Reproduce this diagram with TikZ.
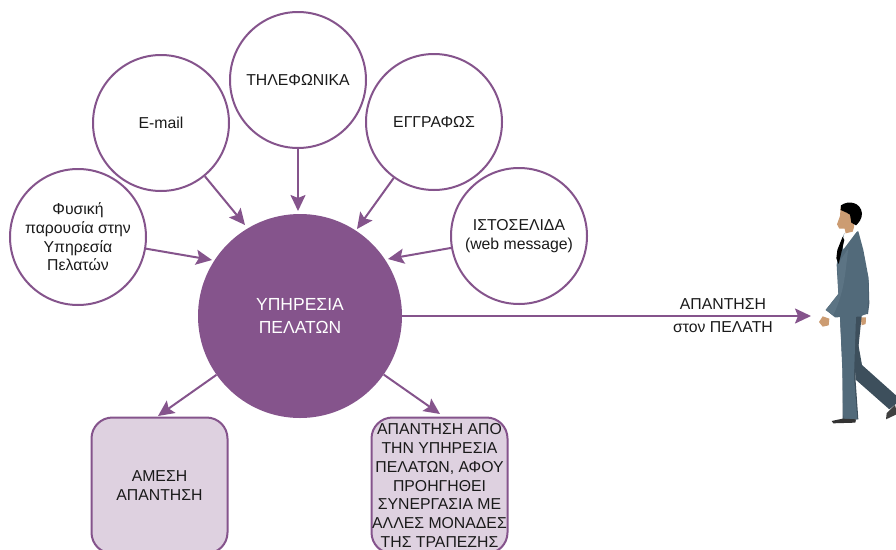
\documentclass[tikz,border=0pt]{standalone}
\usepackage{fontspec}
\setmainfont{Liberation Sans}
\usetikzlibrary{arrows.meta}
\definecolor{plum}{HTML}{85548C}
\definecolor{plumlight}{HTML}{DED1E0}
\definecolor{txt}{HTML}{1A1A1A}
\definecolor{suitdark}{HTML}{3D4F5C}
\definecolor{suitarm}{HTML}{4A6070}
\definecolor{suit}{HTML}{526A7A}
\definecolor{suitlight}{HTML}{5C7484}
\definecolor{skin}{HTML}{CC9C72}
\tikzset{
  src/.style={circle,draw=plum,line width=2pt,fill=white,minimum size=136pt,inner sep=0pt,align=center,text=txt,font=\fontsize{15.8}{18.6}\selectfont},
  hub/.style={circle,fill=plum,minimum size=204pt,inner sep=0pt,align=center,text=white,font=\fontsize{17.5}{23}\selectfont},
  outcome/.style={rectangle,rounded corners=21pt,draw=plum,line width=2pt,fill=plumlight,minimum width=136pt,minimum height=136pt,inner sep=0pt,align=center,text=txt,font=\fontsize{15.8}{18.7}\selectfont},
  link/.style={draw=plum,line width=2pt,-{Stealth[length=16pt,width=15pt,inset=3pt]}},
  lbl/.style={inner sep=0pt,text=txt,font=\fontsize{15.8}{17}\selectfont}
}
\begin{document}
\begin{tikzpicture}[x=1pt,y=-1pt]
\clip (0,0) rectangle (896,549);
\fill[white] (0,0) rectangle (896,549);
\node[hub] (hub) at (300,316) {ΥΠΗΡΕΣΙΑ\\ΠΕΛΑΤΩΝ};
\node[src] (phys) at (78,237) {Φυσική\\παρουσία στην\\Υπηρεσία\\Πελατών};
\node[src] (mail) at (161,123) {E-mail};
\node[src] (tel) at (298,80) {ΤΗΛΕΦΩΝΙΚΑ};
\node[src] (gr) at (434,122) {ΕΓΓΡΑΦΩΣ};
\node[src] (web) at (519,236) {ΙΣΤΟΣΕΛΙΔΑ\\(web message)};
\node[outcome] (direct) at (159.5,485.5) {ΑΜΕΣΗ\\ΑΠΑΝΤΗΣΗ};
\node[outcome] (indirect) at (439.5,485.5) {ΑΠΑΝΤΗΣΗ ΑΠΟ\\ΤΗΝ ΥΠΗΡΕΣΙΑ\\ΠΕΛΑΤΩΝ, ΑΦΟΥ\\ΠΡΟΗΓΗΘΕΙ\\ΣΥΝΕΡΓΑΣΙΑ ΜΕ\\ΑΛΛΕΣ ΜΟΝΑΔΕΣ\\ΤΗΣ ΤΡΑΠΕΖΗΣ};
\coordinate (tphys) at (212,260);
\coordinate (tmail) at (245,225);
\coordinate (ttel) at (298,211);
\coordinate (tgr) at (357,229);
\coordinate (tweb) at (388,259);
\coordinate (tperson) at (811,316);
\coordinate (tdirect) at (158,416);
\coordinate (tindirect) at (440,414);
\draw[link] (phys) -- (tphys);
\draw[link] (mail) -- (tmail);
\draw[link] (tel) -- (ttel);
\draw[link] (gr) -- (tgr);
\draw[link] (web) -- (tweb);
\draw[link] (hub) -- (tperson);
\draw[link] (hub) -- (tdirect);
\draw[link] (hub) -- (tindirect);
\node[lbl] (ans1) at (723,304) {ΑΠΑΝΤΗΣΗ};
\node[lbl] (ans2) at (723,327) {στον ΠΕΛΑΤΗ};
\begin{scope}[shift={(780,190)},x=0.3333pt,y=-0.3333pt]
  % back leg and shoe
  \fill[black!75!white] (318,688) -- (320,670) -- (345,645) -- (352,672) -- cycle;
  \fill[suitdark] (228,425) -- (246,525) -- (350,618) -- (350,640) -- (328,658) -- (226,568) -- cycle;
  % back arm
  \fill[suitarm] (240,265) -- (266,270) -- (268,340) -- (264,372) -- (238,375) -- cycle;
  % hands
  \fill[skin] (117,396) -- (128,379) -- (148,386) -- (146,406) -- (128,410) -- cycle;
  \fill[skin] (242,382) -- (258,382) -- (257,402) -- (245,406) -- cycle;
  % front leg and shoe
  \fill[suitdark] (180,380) -- (245,378) -- (226,560) -- (235,688) -- (188,690) -- (188,540) -- cycle;
  \fill[suit] (180,380) -- (228,378) -- (222,560) -- (232,688) -- (190,690) -- (187,540) -- cycle;
  \fill[black!80!white] (155,693) -- (188,686) -- (228,688) -- (226,698) -- (160,700) -- cycle;
  % jacket
  \fill[suit] (193,130) -- (235,124) -- (250,180) -- (266,265) -- (262,370) -- (240,380) -- (165,382) -- (137,360) -- (175,312) -- (170,225) -- (178,170) -- cycle;
  \fill[suitlight] (205,175) .. controls (195,250) and (195,300) .. (160,375) -- (137,360) -- (175,312) -- (172,225) -- cycle;
  % shirt, tie
  \fill[white] (195,125) -- (232,122) -- (190,178) -- (188,150) -- cycle;
  \fill[black] (188,140) -- (193,150) -- (176,222) -- (169,205) -- (172,180) -- cycle;
  % head
  \fill[skin] (171,103) -- (180,78) -- (182,50) -- (225,60) -- (222,112) -- (218,125) -- (197,130) -- (194,116) -- (178,116) -- cycle;
  \fill[black] (183,46) .. controls (205,30) and (242,36) .. (246,70) .. controls (246,88) and (236,98) .. (228,106) -- (214,98) -- (210,74) -- (200,68) -- (182,60) -- cycle;
  % cuff
  \fill[white] (137,362) -- (150,372) -- (160,384) -- (150,380) -- (135,370) -- cycle;
\end{scope}
\end{tikzpicture}
\end{document}
